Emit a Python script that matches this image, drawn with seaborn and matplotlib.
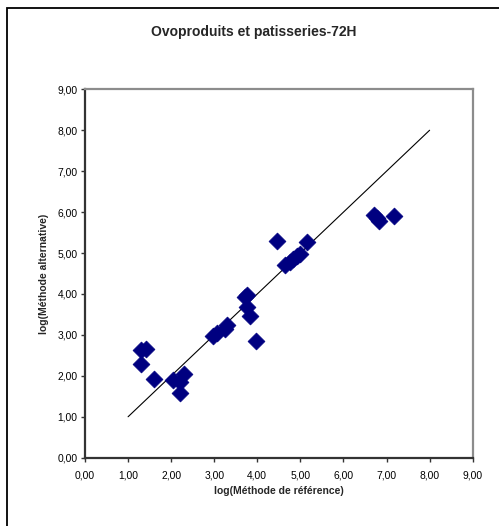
import matplotlib
matplotlib.use("Agg")
import matplotlib.pyplot as plt
from matplotlib.patches import Rectangle
from matplotlib.ticker import FuncFormatter, MultipleLocator
import seaborn as sns
import pandas as pd

# log counts: reference method vs alternative method
ref_log = [1.30, 1.41, 1.29, 1.60, 2.04, 2.21, 2.30, 2.20, 2.98, 3.06,
           3.29, 3.25, 3.76, 3.72, 3.76, 3.82, 3.97, 4.45, 5.15, 4.65,
           4.75, 4.84, 4.92, 5.00, 6.72, 6.78, 6.83, 7.17]
alt_log = [2.62, 2.65, 2.29, 1.93, 1.89, 1.58, 2.05, 1.86, 2.97, 3.05,
           3.25, 3.15, 3.98, 3.93, 3.68, 3.47, 2.86, 5.30, 5.28, 4.70,
           4.78, 4.85, 4.92, 4.98, 5.94, 5.86, 5.78, 5.91]

# identity line y = x
line_x = [1.0, 8.0]
line_y = [1.0, 8.0]

title = "Ovoproduits et patisseries-72H"
xlabel = "log(Méthode de référence)"
ylabel = "log(Méthode alternative)"

sns.set_theme(style="white")
plt.rcParams["font.family"] = ["Liberation Sans", "DejaVu Sans"]

W, H = 499, 526
fig = plt.figure(figsize=(W / 100, H / 100), dpi=100)
fig.patch.set_facecolor("white")

# outer chart frame (open to the right and bottom)
fig.add_artist(Rectangle((7 / W, -0.1), 1.2, 1 - 8 / H + 0.1,
                         transform=fig.transFigure, fill=False,
                         edgecolor="black", linewidth=1.3))

left, right = 85 / W, 472.7 / W
bottom, top = 1 - 457.7 / H, 1 - 89.3 / H
ax = fig.add_axes([left, bottom, right - left, top - bottom])

df = pd.DataFrame({"ref": ref_log, "alt": alt_log})
ldf = pd.DataFrame({"x": line_x, "y": line_y})

sns.lineplot(data=ldf, x="x", y="y", ax=ax, color="black", linewidth=0.8,
             zorder=2)
sns.scatterplot(data=df, x="ref", y="alt", ax=ax, marker="D", s=74,
                color="#000080", edgecolor="#000080", linewidth=0.5,
                zorder=3)

ax.set_xlim(0, 9)
ax.set_ylim(0, 9)
ax.xaxis.set_major_locator(MultipleLocator(1))
ax.yaxis.set_major_locator(MultipleLocator(1))
fmt = FuncFormatter(lambda v, p: f"{v:.2f}".replace(".", ","))
ax.xaxis.set_major_formatter(fmt)
ax.yaxis.set_major_formatter(fmt)

ax.tick_params(axis="both", which="major", direction="out", length=3,
               width=1, color="#333333", labelsize=7.4, labelcolor="black",
               bottom=True, left=True)
ax.tick_params(axis="x", pad=6)
ax.tick_params(axis="y", pad=2.5)

for side in ("top", "right"):
    ax.spines[side].set_color("#8c8c8c")
    ax.spines[side].set_linewidth(1.6)
for side in ("left", "bottom"):
    ax.spines[side].set_color("#333333")
    ax.spines[side].set_linewidth(1.6)

ax.set_xlabel(xlabel, fontsize=7.5, fontweight="bold", labelpad=4)
ax.set_ylabel(ylabel, fontsize=7.5, fontweight="bold", labelpad=6)

fig.text(254 / W, 1 - 32 / H, title, ha="center", va="center",
         fontsize=10, fontweight="bold")

fig.savefig("out.png", dpi=100)
